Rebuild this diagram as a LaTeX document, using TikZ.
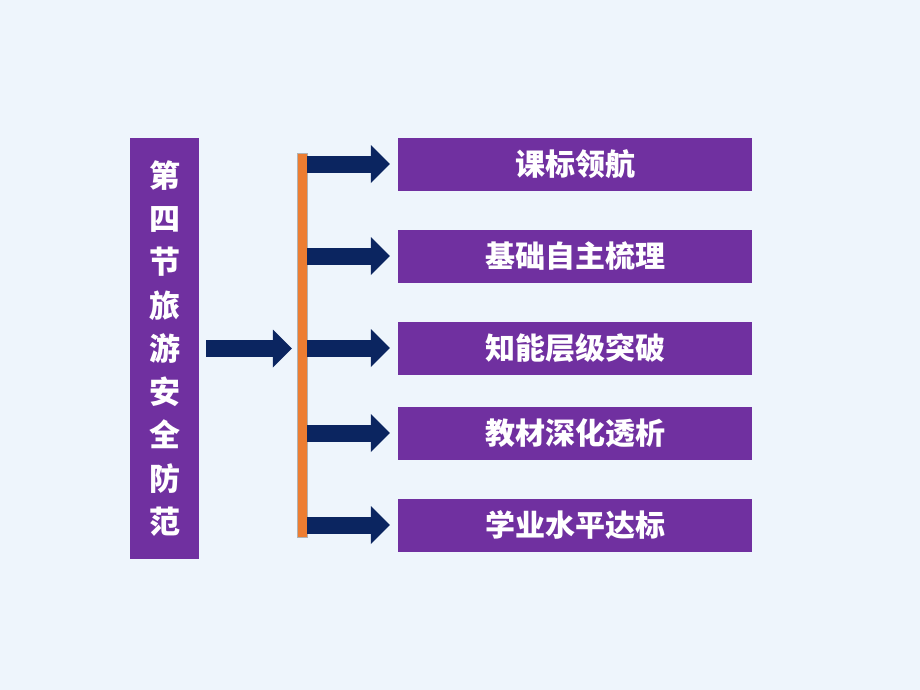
\documentclass[tikz,border=0pt]{standalone}
\usepackage{fontspec}
\newfontfamily\cjk{Noto Sans CJK SC}
\usepackage{tikz}
\usetikzlibrary{arrows.meta,positioning}
\definecolor{bgblue}{RGB}{238,245,252}
\definecolor{boxpurple}{RGB}{112,48,160}
\definecolor{arrownavy}{RGB}{11,37,96}
\definecolor{barorange}{RGB}{237,125,49}

\begin{document}
\begin{tikzpicture}[x=1pt,y=-1pt,node distance=92pt,on grid,
    topic/.style={fill=boxpurple,text=white,font=\cjk\bfseries\fontsize{30}{36}\selectfont,
      minimum width=354pt,minimum height=53pt,inner sep=0pt},
    bigarrow/.style={draw=arrownavy,line width=17pt,
      -{Triangle[length=19pt,width=38pt,line width=0pt]}}]
% Here is the background and the size of the page
   \fill[bgblue] (0,0) rectangle (920,690);
   \useasboundingbox (0,0) rectangle (920,690);
% Here is where we draw the title, the bar and each topic box
   \node[fill=boxpurple,text=white,font=\cjk\bfseries\fontsize{31}{43.25}\selectfont,
      align=center,minimum width=69pt,minimum height=421pt,inner sep=0pt]
      (title) at (164.5,348.5) {第\\四\\节\\旅\\游\\安\\全\\防\\范};
   \node[fill=barorange,draw=gray!60,line width=0.4pt,minimum width=10pt,
      minimum height=384pt,inner sep=0pt] (bar) at (302,345) {};
   \node[topic] (t_1) at (575,164) {课标领航};
   \node[topic] (t_2) [below=of t_1] {基础自主梳理};
   \node[topic] (t_3) [below=of t_2] {知能层级突破};
   \node[topic] (t_4) [below=85pt of t_3] {教材深化透析};
   \node[topic] (t_5) [below=of t_4] {学业水平达标};
% Here is where we draw the arrows from the bar to the boxes
   \draw[bigarrow,shorten <=7pt,shorten >=5pt] (title.east) -- (title.east -| bar.west);
   \foreach \i in {1,...,5}
      \draw[bigarrow,shorten >=8pt] (bar.east |- t_\i) -- (t_\i.west);
\end{tikzpicture}
\end{document}
